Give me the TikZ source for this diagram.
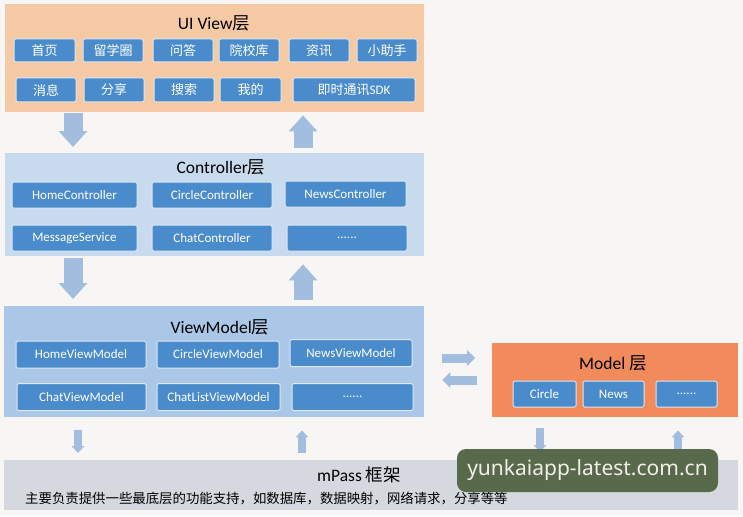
\documentclass[tikz,border=0pt]{standalone}
\usepackage{fontspec}
\setmainfont{Carlito}
\newfontfamily\cjk{Noto Sans CJK SC}
\newfontfamily\wmfont{Noto Sans}
\usetikzlibrary{arrows.meta}
\definecolor{bgc}{HTML}{F8F6F5}
\definecolor{uifill}{HTML}{F6C9A5}
\definecolor{ctrlfill}{HTML}{C8DAEE}
\definecolor{vmfill}{HTML}{ABC7E8}
\definecolor{modelfill}{HTML}{F28B5B}
\definecolor{mpfill}{HTML}{D5D9DF}
\definecolor{boxblue}{HTML}{4A8CCB}
\definecolor{boxline}{HTML}{DCE8F4}
\definecolor{arrowblue}{HTML}{A3BDDF}
\definecolor{wmgreen}{HTML}{59694B}
\definecolor{wmtext}{HTML}{F0F0E8}
\tikzset{
  layer/.style={draw=none, inner sep=0pt, anchor=north west},
  ttl/.style={font=\fontsize{17.5}{20}\selectfont, text=black, inner sep=0pt},
  box/.style={draw=boxline, line width=1pt, fill=boxblue, rounded corners=1.5pt,
    text=white, font=\fontsize{13}{15}\selectfont, inner sep=0pt, minimum height=24pt},
  bigarrow/.style={draw=arrowblue, line width=19pt,
    -{Triangle[length=16pt, width=29pt, line width=0pt]}},
  midarrow/.style={draw=arrowblue, line width=9pt,
    -{Triangle[length=8pt, width=16pt, line width=0pt]}},
  smallarrow/.style={draw=arrowblue, line width=8pt,
    -{Triangle[length=7pt, width=13pt, line width=0pt]}},
  wm/.style={fill=wmgreen, rounded corners=9pt, text=wmtext, inner sep=0pt,
    minimum width=261pt, minimum height=43pt, font=\wmfont\fontsize{21}{24}\selectfont}
}
\begin{document}
\begin{tikzpicture}[x=1pt,y=-1pt]
\fill[bgc] (0,0) rectangle (743,516);
\useasboundingbox (0,0) rectangle (743,516);

% layers
\node[layer, fill=uifill, minimum width=419pt, minimum height=108pt] (ui) at (5,4) {};
\node[layer, fill=ctrlfill, minimum width=419pt, minimum height=103pt] (ctrl) at (5,153) {};
\node[layer, fill=vmfill, minimum width=420pt, minimum height=111pt] (vm) at (4,306) {};
\node[layer, fill=modelfill, minimum width=246pt, minimum height=74pt] (model) at (492,343) {};
\node[layer, fill=mpfill, minimum width=734pt, minimum height=50pt] (mpass) at (4,460) {};

% titles
\node[ttl] (uit) at (214,23) {UI View{\cjk 层}};
\node[ttl] (ctrlt) at (221,167) {Controller{\cjk 层}};
\node[ttl] (vmt) at (220,327) {ViewModel{\cjk 层}};
\node[ttl] (modelt) at (613,363) {Model {\cjk 层}};
\node[ttl] (mpt) at (359,475) {mPass {\cjk 框架}};
\node[anchor=west, inner sep=0pt, text=black, font=\cjk\fontsize{13.4}{16}\selectfont] (mpd) at (25,498)
  {主要负责提供一些最底层的功能支持，如数据库，数据映射，网络请求，分享等等};

% UI boxes
\node[box, minimum width=61pt, minimum height=23pt] (u1) at (44.5,50.5) {\cjk 首页};
\node[box, minimum width=60pt, minimum height=23pt] (u2) at (113,50.5) {\cjk 留学圈};
\node[box, minimum width=60pt, minimum height=23pt] (u3) at (183,50.5) {\cjk 问答};
\node[box, minimum width=60pt, minimum height=23pt] (u4) at (249,50.5) {\cjk 院校库};
\node[box, minimum width=60pt, minimum height=23pt] (u5) at (319,50.5) {\cjk 资讯};
\node[box, minimum width=60pt, minimum height=23pt] (u6) at (387,50.5) {\cjk 小助手};
\node[box, minimum width=60pt] (u7) at (46,90) {\cjk 消息};
\node[box, minimum width=60pt] (u8) at (114,90) {\cjk 分享};
\node[box, minimum width=60pt] (u9) at (184,90) {\cjk 搜索};
\node[box, minimum width=61pt] (u10) at (250.5,90) {\cjk 我的};
\node[box, minimum width=122pt] (u11) at (354,90) {{\cjk 即时通讯}SDK};

% Controller boxes
\node[box, minimum width=125pt, minimum height=26pt] (c1) at (74.5,195) {HomeController};
\node[box, minimum width=120pt, minimum height=26pt] (c2) at (212,195) {CircleController};
\node[box, minimum width=121pt, minimum height=26pt] (c3) at (345.5,194) {NewsController};
\node[box, minimum width=125pt, minimum height=26pt] (c4) at (74.5,238) {MessageService};
\node[box, minimum width=120pt, minimum height=26pt] (c5) at (212,238) {ChatController};
\node[box, minimum width=120pt, minimum height=26pt] (c6) at (347,238) {......};

% ViewModel boxes
\node[box, minimum width=130pt, minimum height=27pt] (v1) at (81,354.5) {HomeViewModel};
\node[box, minimum width=122pt, minimum height=27pt] (v2) at (218,354.5) {CircleViewModel};
\node[box, minimum width=122pt, minimum height=27pt] (v3) at (351,353) {NewsViewModel};
\node[box, minimum width=129pt, minimum height=27pt] (v4) at (81.5,397) {ChatViewModel};
\node[box, minimum width=123pt, minimum height=27pt] (v5) at (218.5,397) {ChatListViewModel};
\node[box, minimum width=121pt, minimum height=27pt] (v6) at (352.5,397) {......};

% Model boxes
\node[box, minimum width=63pt, minimum height=26pt] (m1) at (544.5,394) {Circle};
\node[box, minimum width=61pt, minimum height=26pt] (m2) at (613.5,394) {News};
\node[box, minimum width=61pt, minimum height=26pt] (m3) at (686.5,394) {......};

% arrow columns / rows
\coordinate (xl) at (73,0);
\coordinate (xr) at (303,0);
\coordinate (ya) at (0,358);
\coordinate (yb) at (0,380);
\coordinate (s1) at (78,0);
\coordinate (s2) at (302,0);
\coordinate (s3) at (540,0);
\coordinate (s4) at (678,0);

\draw[bigarrow, shorten <=1pt, shorten >=6pt] (ui.south -| xl) -- (ctrl.north -| xl);
\draw[bigarrow, shorten <=5pt, shorten >=3pt] (ctrl.north -| xr) -- (ui.south -| xr);
\draw[bigarrow, shorten <=2pt, shorten >=7pt] (ctrl.south -| xl) -- (vm.north -| xl);
\draw[bigarrow, shorten <=6pt, shorten >=8pt] (vm.north -| xr) -- (ctrl.south -| xr);

\draw[midarrow, shorten <=18pt, shorten >=17pt] (vm.east |- ya) -- (model.west |- ya);
\draw[midarrow, shorten <=15pt, shorten >=18pt] (model.west |- yb) -- (vm.east |- yb);

\draw[smallarrow, shorten <=13pt, shorten >=7pt] (vm.south -| s1) -- (mpass.north -| s1);
\draw[smallarrow, shorten <=7pt, shorten >=13pt] (mpass.north -| s2) -- (vm.south -| s2);
\draw[smallarrow, shorten <=11pt, shorten >=8pt] (model.south -| s3) -- (mpass.north -| s3);
\draw[smallarrow, shorten <=8pt, shorten >=13pt] (mpass.north -| s4) -- (model.south -| s4);

% watermark
\node[wm] (wmk) at (587.5,470.5) {yunkaiapp-latest.com.cn};
\end{tikzpicture}
\end{document}
